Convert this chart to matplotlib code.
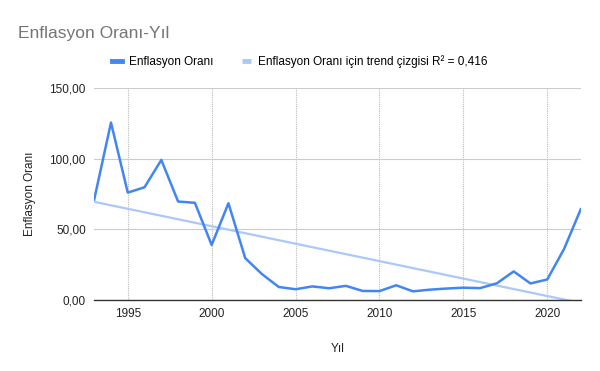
import matplotlib
matplotlib.use("Agg")
import matplotlib.pyplot as plt
import numpy as np
from matplotlib.ticker import FuncFormatter

years = list(range(1993, 2023))
inflation = [71.1, 125.5, 76.0, 79.8, 99.1, 69.7, 68.8, 39.0, 68.5, 29.7,
             18.4, 9.3, 7.7, 9.7, 8.4, 10.1, 6.5, 6.4, 10.5, 6.2,
             7.4, 8.2, 8.8, 8.5, 11.9, 20.3, 11.8, 14.6, 36.1, 64.3]
x_ticks = [1995, 2000, 2005, 2010, 2015, 2020]
y_ticks = [0, 50, 100, 150]
title = "Enflasyon Oranı-Yıl"
series_label = "Enflasyon Oranı"
trend_label = "Enflasyon Oranı için trend çizgisi R\u00b2 = 0,416"

plt.rcParams['font.family'] = ['Liberation Sans', 'DejaVu Sans']

fig = plt.figure(figsize=(6, 3.71), dpi=100)
ax = fig.add_axes([0.157, 0.191, 0.811, 0.572])

x = np.array(years, dtype=float)
y = np.array(inflation)
coef = np.polyfit(x, y, 1)
trend = np.polyval(coef, x)

ax.plot(x, trend, color='#abc8f7', lw=1.6, label=trend_label, zorder=2, solid_capstyle='butt')
ax.plot(x, y, color='#4285f4', lw=1.8, label=series_label, zorder=3)

ax.set_xlim(1993, 2022)
ax.set_ylim(0, 150)
ax.set_xticks(x_ticks)
ax.set_yticks(y_ticks)
ax.yaxis.set_major_formatter(FuncFormatter(lambda v, p: f"{v:.2f}".replace('.', ',')))
ax.tick_params(axis='both', length=0, labelsize=8.5, colors='#222222', pad=6)

ax.grid(axis='y', color='#cccccc', lw=0.8)
ax.grid(axis='x', color='#bbbbbb', lw=0.8, linestyle=(0, (1, 1)))
for s in ['top', 'right', 'left']:
    ax.spines[s].set_visible(False)
ax.spines['bottom'].set_color('#333333')
ax.spines['bottom'].set_linewidth(1.0)
ax.spines['bottom'].set_zorder(4)

ax.set_ylabel("Enflasyon Oranı", fontsize=8.5, color='#222222', labelpad=10)
ax.set_xlabel("Yıl", fontsize=8.5, color='#222222', labelpad=16)

fig.text(0.03, 0.91, title, fontsize=12.5, color='#757575', ha='left', va='center')

handles, labels = ax.get_legend_handles_labels()
leg = fig.legend(handles[::-1], labels[::-1], loc='center', bbox_to_anchor=(0.5, 0.833), ncol=2,
                 frameon=False, fontsize=8.5, handlelength=0.8, handletextpad=0.6,
                 columnspacing=2.4)
for h in leg.legend_handles:
    h.set_linewidth(3.5)

fig.savefig("out.png", dpi=100)
